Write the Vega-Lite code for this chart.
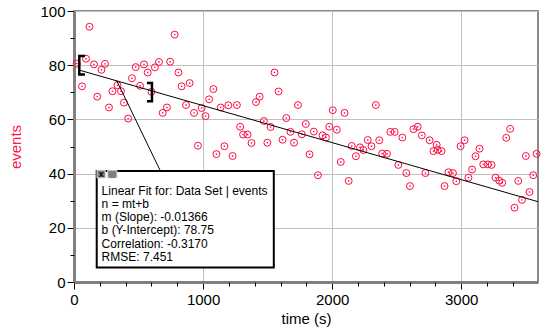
{
  "$schema": "https://vega.github.io/schema/vega-lite/v6.json",
  "width": 464,
  "height": 271,
  "autosize": {"type": "none"},
  "padding": {"left": 74, "top": 11, "right": 14, "bottom": 50},
  "background": "white",
  "config": {
    "font": "Liberation Sans",
    "view": {"stroke": "#8a8a8a", "strokeWidth": 2}
  },
  "datasets": {
    "pts": [
      {"t": 21, "n": 80.6}, {"t": 62, "n": 72.2}, {"t": 93, "n": 82.4}, {"t": 120, "n": 94.2},
      {"t": 155, "n": 80.3}, {"t": 180, "n": 68.4}, {"t": 213, "n": 78.3}, {"t": 240, "n": 80.5},
      {"t": 271, "n": 64.4}, {"t": 298, "n": 70.4}, {"t": 337, "n": 72.6}, {"t": 364, "n": 70.4},
      {"t": 387, "n": 66.2}, {"t": 420, "n": 60.3}, {"t": 449, "n": 75.2}, {"t": 478, "n": 79.3},
      {"t": 512, "n": 72.4}, {"t": 542, "n": 80.3}, {"t": 571, "n": 77.3}, {"t": 600, "n": 70.2},
      {"t": 627, "n": 79.2}, {"t": 658, "n": 81.2}, {"t": 687, "n": 62.4}, {"t": 720, "n": 64.4},
      {"t": 745, "n": 81.3}, {"t": 780, "n": 91.3}, {"t": 809, "n": 77.3}, {"t": 834, "n": 72.2},
      {"t": 868, "n": 65.3}, {"t": 896, "n": 73.4}, {"t": 930, "n": 62.4}, {"t": 960, "n": 50.3},
      {"t": 989, "n": 64.2}, {"t": 1019, "n": 61.2}, {"t": 1047, "n": 67.4}, {"t": 1080, "n": 71.2},
      {"t": 1103, "n": 47.2}, {"t": 1136, "n": 64.4}, {"t": 1165, "n": 50.1}, {"t": 1196, "n": 65.2},
      {"t": 1229, "n": 46.5}, {"t": 1262, "n": 65.3}, {"t": 1287, "n": 57.3}, {"t": 1310, "n": 54.4},
      {"t": 1345, "n": 54.4}, {"t": 1375, "n": 51.3}, {"t": 1410, "n": 66.4}, {"t": 1438, "n": 68.4},
      {"t": 1471, "n": 59.4}, {"t": 1498, "n": 51.4}, {"t": 1523, "n": 57.2}, {"t": 1554, "n": 77.3},
      {"t": 1585, "n": 70.3}, {"t": 1616, "n": 52.5}, {"t": 1645, "n": 60.5}, {"t": 1677, "n": 55.4},
      {"t": 1705, "n": 51.4}, {"t": 1735, "n": 65.3}, {"t": 1765, "n": 54.5}, {"t": 1796, "n": 58.3},
      {"t": 1825, "n": 47.1}, {"t": 1858, "n": 55.5}, {"t": 1890, "n": 39.4}, {"t": 1926, "n": 54.1},
      {"t": 1952, "n": 53.3}, {"t": 1978, "n": 57.3}, {"t": 2005, "n": 63.4}, {"t": 2036, "n": 56.2},
      {"t": 2067, "n": 44.3}, {"t": 2096, "n": 62.4}, {"t": 2128, "n": 37.3}, {"t": 2152, "n": 50.2},
      {"t": 2184, "n": 46.4}, {"t": 2216, "n": 49.7}, {"t": 2242, "n": 48.7}, {"t": 2276, "n": 52.4},
      {"t": 2305, "n": 50.1}, {"t": 2339, "n": 65.3}, {"t": 2365, "n": 52.3}, {"t": 2388, "n": 47.4},
      {"t": 2425, "n": 47.3}, {"t": 2451, "n": 55.4}, {"t": 2485, "n": 55.4}, {"t": 2513, "n": 43.2},
      {"t": 2544, "n": 53.3}, {"t": 2575, "n": 40.2}, {"t": 2603, "n": 35.4}, {"t": 2630, "n": 56.4},
      {"t": 2663, "n": 57.3}, {"t": 2695, "n": 54.1}, {"t": 2723, "n": 40.2}, {"t": 2755, "n": 52.3},
      {"t": 2785, "n": 48.3}, {"t": 2810, "n": 50.6}, {"t": 2818, "n": 48.8}, {"t": 2848, "n": 48.3},
      {"t": 2871, "n": 35.4}, {"t": 2901, "n": 40.5}, {"t": 2936, "n": 40.2}, {"t": 2962, "n": 37.2},
      {"t": 2995, "n": 50.1}, {"t": 3026, "n": 52.3}, {"t": 3056, "n": 38.5}, {"t": 3084, "n": 41.5},
      {"t": 3111, "n": 46.4}, {"t": 3142, "n": 49.2}, {"t": 3171, "n": 43.4}, {"t": 3207, "n": 43.4},
      {"t": 3235, "n": 43.2}, {"t": 3266, "n": 38.5}, {"t": 3295, "n": 37.4}, {"t": 3318, "n": 36.6},
      {"t": 3349, "n": 53.2}, {"t": 3379, "n": 56.5}, {"t": 3413, "n": 27.4}, {"t": 3442, "n": 37.3},
      {"t": 3471, "n": 30.3}, {"t": 3501, "n": 46.5}, {"t": 3529, "n": 33.2}, {"t": 3558, "n": 39.4},
      {"t": 3584, "n": 47.3}
    ],
    "fit": [{"t": 36, "n": 78.26}, {"t": 3595, "n": 29.64}],
    "leader": [{"t": 330, "n": 74.4}, {"t": 670, "n": 40.9}],
    "brackets": [
      {"b": "L", "o": 1, "t": 85, "n": 83.4}, {"b": "L", "o": 2, "t": 41, "n": 83.4},
      {"b": "L", "o": 3, "t": 41, "n": 76.6}, {"b": "L", "o": 4, "t": 85, "n": 76.6},
      {"b": "R", "o": 1, "t": 565, "n": 73.4}, {"b": "R", "o": 2, "t": 604, "n": 73.4},
      {"b": "R", "o": 3, "t": 604, "n": 66.7}, {"b": "R", "o": 4, "t": 565, "n": 66.7}
    ],
    "box": [{"t": 176, "t2": 1548, "n": 40.96, "n2": 5.31}],
    "buttons": [
      {"t": 178, "t2": 243, "n": 41.2, "n2": 38.4, "tc": 210.5, "nc": 39.8, "g": "x"},
      {"t": 261, "t2": 333, "n": 41.2, "n2": 38.4, "tc": 297, "nc": 39.8, "g": "_"}
    ],
    "info": [{"t": 214, "n": 35.6}]
  },
  "layer": [
    {
      "data": {"name": "pts"},
      "mark": {"type": "point", "shape": "circle", "filled": false, "size": 48, "strokeWidth": 1, "color": "#ff0a40", "opacity": 1},
      "encoding": {
        "x": {
          "field": "t", "type": "quantitative",
          "scale": {"domain": [0, 3595], "nice": false, "zero": false},
          "axis": {
            "orient": "bottom", "values": [0, 1000, 2000, 3000], "format": "d",
            "tickSize": 7, "tickColor": "#000", "tickWidth": 1,
            "domainColor": "#808080", "domainWidth": 3,
            "grid": true, "gridColor": "#c0c0c0", "gridWidth": 1,
            "labelFontSize": 15, "labelColor": "#000", "labelPadding": 3, "labelFlush": false, "labelOverlap": false,
            "title": "time (s)", "titleFontSize": 15, "titleFontWeight": "normal", "titleColor": "#000", "titlePadding": 4
          }
        },
        "y": {
          "field": "n", "type": "quantitative",
          "scale": {"domain": [0, 100], "nice": false, "zero": false},
          "axis": {
            "orient": "left", "values": [0, 20, 40, 60, 80, 100],
            "tickSize": 7, "tickColor": "#000", "tickWidth": 1,
            "domainColor": "#808080", "domainWidth": 3,
            "grid": true, "gridColor": "#c0c0c0", "gridWidth": 1,
            "labelFontSize": 15, "labelColor": "#000", "labelPadding": 2, "labelFlush": false, "labelOverlap": false,
            "title": "events", "titleFontSize": 15, "titleFontWeight": "normal", "titleColor": "#ff1a4d", "titlePadding": 16
          }
        }
      }
    },
    {
      "data": {"name": "pts"},
      "mark": {"type": "point", "shape": "square", "filled": true, "size": 2, "color": "#ff0a40", "opacity": 1},
      "encoding": {
        "x": {
          "field": "t", "type": "quantitative",
          "scale": {"domain": [0, 3595], "nice": false, "zero": false},
          "axis": {
            "orient": "bottom", "values": [200, 400, 600, 800, 1200, 1400, 1600, 1800, 2200, 2400, 2600, 2800, 3200, 3400],
            "tickSize": 4, "tickColor": "#000", "labels": false, "domain": false, "grid": false, "title": null
          }
        },
        "y": {
          "field": "n", "type": "quantitative",
          "scale": {"domain": [0, 100], "nice": false, "zero": false},
          "axis": {
            "orient": "left", "values": [10, 30, 50, 70, 90],
            "tickSize": 4, "tickColor": "#000", "labels": false, "domain": false, "grid": false, "title": null
          }
        }
      }
    },
    {
      "data": {"name": "fit"},
      "mark": {"type": "line", "color": "#000", "strokeWidth": 1},
      "encoding": {
        "x": {"field": "t", "type": "quantitative", "scale": {"domain": [0, 3595], "nice": false, "zero": false}, "axis": null},
        "y": {"field": "n", "type": "quantitative", "scale": {"domain": [0, 100], "nice": false, "zero": false}, "axis": null}
      }
    },
    {
      "data": {"name": "leader"},
      "mark": {"type": "line", "color": "#000", "strokeWidth": 1},
      "encoding": {
        "x": {"field": "t", "type": "quantitative", "scale": {"domain": [0, 3595], "nice": false, "zero": false}, "axis": null},
        "y": {"field": "n", "type": "quantitative", "scale": {"domain": [0, 100], "nice": false, "zero": false}, "axis": null}
      }
    },
    {
      "data": {"name": "brackets"},
      "mark": {"type": "line", "color": "#000", "strokeWidth": 2.5, "strokeJoin": "miter"},
      "encoding": {
        "x": {"field": "t", "type": "quantitative", "scale": {"domain": [0, 3595], "nice": false, "zero": false}, "axis": null},
        "y": {"field": "n", "type": "quantitative", "scale": {"domain": [0, 100], "nice": false, "zero": false}, "axis": null},
        "detail": {"field": "b", "type": "nominal"},
        "order": {"field": "o", "type": "quantitative"}
      }
    },
    {
      "data": {"name": "box"},
      "mark": {"type": "rect", "fill": "#ffffff", "stroke": "#000", "strokeWidth": 2},
      "encoding": {
        "x": {"field": "t", "type": "quantitative", "scale": {"domain": [0, 3595], "nice": false, "zero": false}, "axis": null},
        "x2": {"field": "t2"},
        "y": {"field": "n", "type": "quantitative", "scale": {"domain": [0, 100], "nice": false, "zero": false}, "axis": null},
        "y2": {"field": "n2"}
      }
    },
    {
      "data": {"name": "buttons"},
      "mark": {"type": "rect", "fill": "#808080", "stroke": "#d8d8d8", "strokeWidth": 1},
      "encoding": {
        "x": {"field": "t", "type": "quantitative", "scale": {"domain": [0, 3595], "nice": false, "zero": false}, "axis": null},
        "x2": {"field": "t2"},
        "y": {"field": "n", "type": "quantitative", "scale": {"domain": [0, 100], "nice": false, "zero": false}, "axis": null},
        "y2": {"field": "n2"}
      }
    },
    {
      "data": {"name": "buttons"},
      "mark": {"type": "text", "fontSize": 9, "fontWeight": "bold", "color": "#000", "align": "center", "baseline": "middle"},
      "encoding": {
        "x": {"field": "tc", "type": "quantitative", "scale": {"domain": [0, 3595], "nice": false, "zero": false}, "axis": null},
        "y": {"field": "nc", "type": "quantitative", "scale": {"domain": [0, 100], "nice": false, "zero": false}, "axis": null},
        "text": {"field": "g", "type": "nominal"}
      }
    },
    {
      "data": {"name": "info"},
      "mark": {
        "type": "text", "align": "left", "baseline": "top", "fontSize": 12, "lineHeight": 13.3, "color": "#000",
        "text": ["Linear Fit for: Data Set | events", "n = mt+b", "m (Slope): -0.01366", "b (Y-Intercept): 78.75", "Correlation: -0.3170", "RMSE: 7.451"]
      },
      "encoding": {
        "x": {"field": "t", "type": "quantitative", "scale": {"domain": [0, 3595], "nice": false, "zero": false}, "axis": null},
        "y": {"field": "n", "type": "quantitative", "scale": {"domain": [0, 100], "nice": false, "zero": false}, "axis": null}
      }
    }
  ],
  "resolve": {"axis": {"x": "independent", "y": "independent"}}
}
